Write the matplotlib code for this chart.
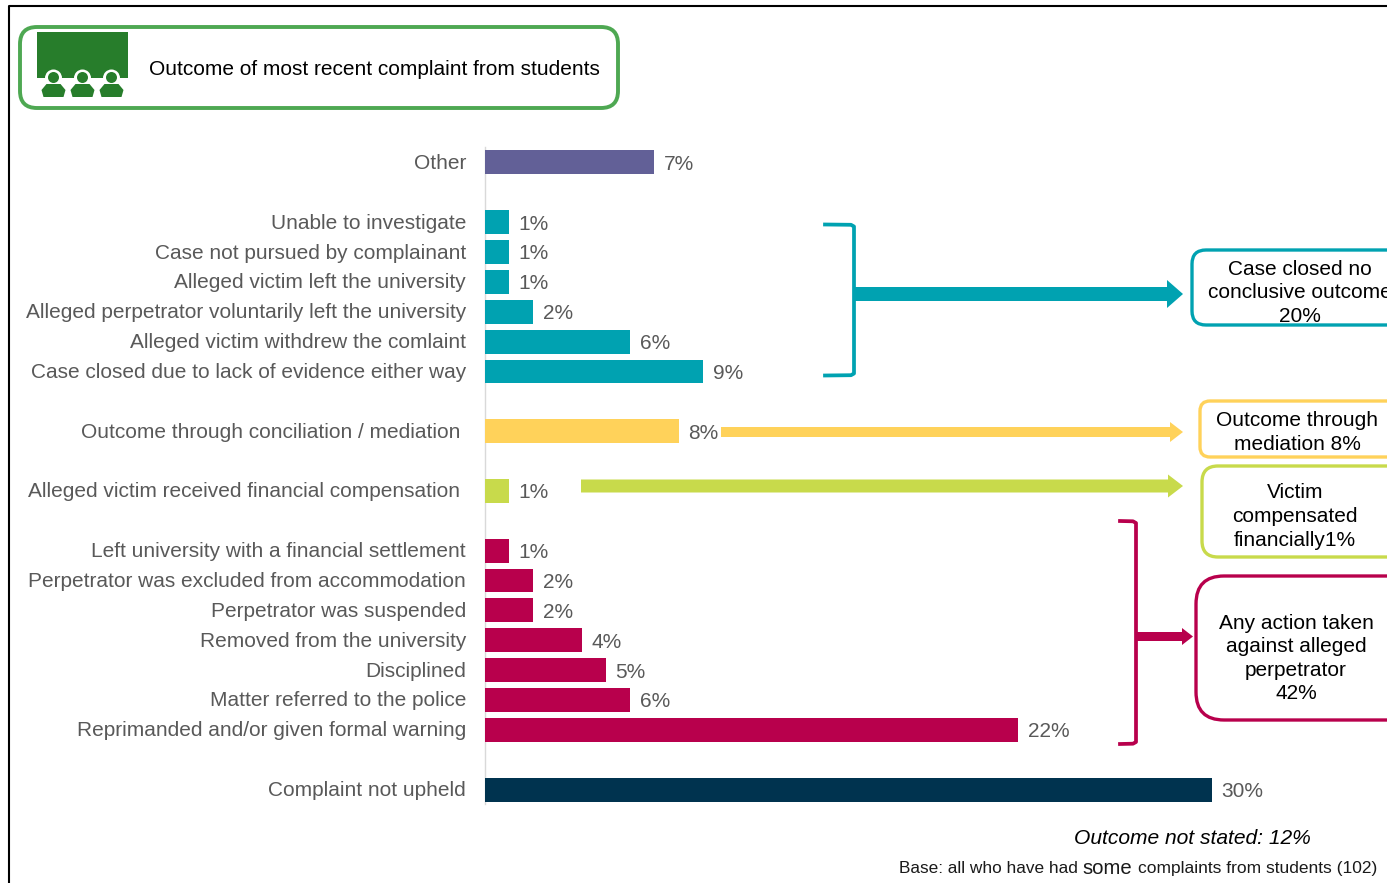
import matplotlib
matplotlib.use('Agg')
import matplotlib.pyplot as plt
from matplotlib.patches import FancyBboxPatch, Rectangle, Circle, Polygon
from matplotlib.transforms import ScaledTranslation

matplotlib.rcParams['font.family'] = ['Liberation Sans', 'DejaVu Sans']

W, H = 1387, 883

labels = ['Other',
          'Unable to investigate', 'Case not pursued by complainant',
          'Alleged victim left the university',
          'Alleged perpetrator voluntarily left the university',
          'Alleged victim withdrew the comlaint',
          'Case closed due to lack of evidence either way',
          'Outcome through conciliation / mediation ',
          'Alleged victim received financial compensation ',
          'Left university with a financial settlement',
          'Perpetrator was excluded from accommodation',
          'Perpetrator was suspended', 'Removed from the university',
          'Disciplined', 'Matter referred to the police',
          'Reprimanded and/or given formal warning',
          'Complaint not upheld']
values = [7, 1, 1, 1, 2, 6, 9, 8, 1, 1, 2, 2, 4, 5, 6, 22, 30]
rows = [0, 2, 3, 4, 5, 6, 7, 9, 11, 13, 14, 15, 16, 17, 18, 19, 21]
colors = ['#626097'] + ['#00A2B1'] * 6 + ['#FFD25A', '#C8DA4B'] + ['#B8004C'] * 7 + ['#00334F']

TEAL, YELLOW, LIME, CRIMSON = '#00A2B1', '#FFD25A', '#C8DA4B', '#B8004C'
GREY = '#595959'
FS = 15.05

fig = plt.figure(figsize=(W / 100, H / 100), dpi=100)

# bars: 30% sits at x=1212px, rows spaced about 29.87px
top, bottom = 147.5, 804.5
ax = fig.add_axes([484.7 / W, 1 - bottom / H, (1212 - 484.7) / W, (bottom - top) / H])
ax.barh(rows, values, height=0.8, color=colors, zorder=3)
ax.set_xlim(0, 30)
ax.set_ylim(21.5, -0.5)
ax.set_yticks(rows)
ax.set_yticklabels(labels, fontsize=FS, color=GREY)
ax.set_xticks([])
ax.tick_params(axis='y', length=0, pad=13.5)
# nudge the category names up a pixel
nudge = ScaledTranslation(0, 1 / 100, fig.dpi_scale_trans)
for t in ax.get_yticklabels():
    t.set_transform(t.get_transform() + nudge)
for s in ['top', 'right', 'bottom']:
    ax.spines[s].set_visible(False)
ax.spines['left'].set_color('#D9D9D9')
ax.spines['left'].set_linewidth(1)
ax.spines['left'].set_zorder(1)
for r, v in zip(rows, values):
    ax.annotate('%d%%' % v, (v, r), xytext=(7, -1.4), textcoords='offset points',
                va='center', ha='left', fontsize=FS, color=GREY)

# everything else is laid out in pixels on a see-through overlay
ov = fig.add_axes([0, 0, 1, 1], zorder=5)
ov.set_xlim(0, W)
ov.set_ylim(H, 0)
ov.axis('off')
ov.patch.set_alpha(0)

ov.plot([9, 9, W], [H, 5.5, 5.5], color='black', lw=1.5)


def rbox(x0, y0, x1, y1, rad, col, lw=2.4):
    ov.add_patch(FancyBboxPatch((x0 + rad, y0 + rad), x1 - x0 - 2 * rad, y1 - y0 - 2 * rad,
                                boxstyle='round,pad=%d,rounding_size=%d' % (rad, rad),
                                fc='white', ec=col, lw=lw, mutation_aspect=1))


def arrow(x0, x1, y, shaft, head, base, col):
    ov.add_patch(Polygon([(x0, y - shaft / 2), (base, y - shaft / 2), (base, y - head / 2),
                          (x1, y), (base, y + head / 2), (base, y + shaft / 2),
                          (x0, y + shaft / 2)], fc=col, ec='none'))


def bracket(x0, x1, y0, y1, col):
    ov.plot([x0, x1 - 3, x1, x1, x1 - 3, x0], [y0, y0 + 0.3, y0 + 2, y1 - 2, y1 - 0.3, y1],
            color=col, lw=2.7, solid_joinstyle='round')


# heading box with the lecture room icon
rbox(20, 27, 618, 108, 17, '#4EA852', lw=2.8)
ov.add_patch(Rectangle((37, 32), 91, 46, fc='#277D2B', ec='none'))
for cx in [53.5, 82.5, 111.5]:
    ov.add_patch(Circle((cx, 78), 8.5, fc='white', ec='none'))
    ov.add_patch(Circle((cx, 77.5), 5.5, fc='#277D2B', ec='none'))
    ov.add_patch(Polygon([(cx - 7, 84), (cx + 7, 84), (cx + 12, 90), (cx + 10, 97),
                          (cx - 10, 97), (cx - 12, 90)], fc='#277D2B', ec='none'))
ov.text(149, 69.5, 'Outcome of most recent complaint from students', fontsize=FS,
        va='center', ha='left', color='black')

bracket(825, 854, 224.5, 375.5, TEAL)
arrow(854, 1183, 294, 14, 28, 1167, TEAL)
arrow(721, 1183, 432, 10, 20, 1170, YELLOW)
arrow(581, 1183, 486, 13, 23, 1168, LIME)
bracket(1120, 1136, 521, 744, CRIMSON)
arrow(1136, 1193, 636.5, 9, 17, 1182, CRIMSON)

rbox(1192, 250, 1420, 325, 14, TEAL)
rbox(1200, 401, 1420, 457, 10, YELLOW)
rbox(1202, 466, 1420, 557, 16, LIME)
rbox(1196, 576, 1420, 720, 28, CRIMSON)

box_texts = [(1300, 269.5, 'Case closed no'), (1300, 293, 'conclusive outcome'), (1300, 316.5, '20%'),
             (1297, 421, 'Outcome through'), (1297, 444.5, 'mediation 8%'),
             (1295, 492.5, 'Victim'), (1295, 516.5, 'compensated'), (1295, 540, 'financially1%'),
             (1296, 623.5, 'Any action taken'), (1296, 647, 'against alleged'),
             (1296, 670, 'perpetrator'), (1296, 693.5, '42%')]
for x, y, s in box_texts:
    ov.text(x, y, s, fontsize=FS, ha='center', va='center', color='black')

ov.text(1074, 838, 'Outcome not stated: 12%', fontsize=15.15, style='italic', va='center', color='black')
ov.text(899, 868.5, 'Base: all who have had', fontsize=12.45, va='center', color='#1A1A1A')
ov.text(1082, 868, 'some', fontsize=14.6, va='center', color='#1A1A1A')
ov.text(1138, 868.5, 'complaints from students (102)', fontsize=12.55, va='center', color='#1A1A1A')

fig.savefig('out.png', dpi=100)
